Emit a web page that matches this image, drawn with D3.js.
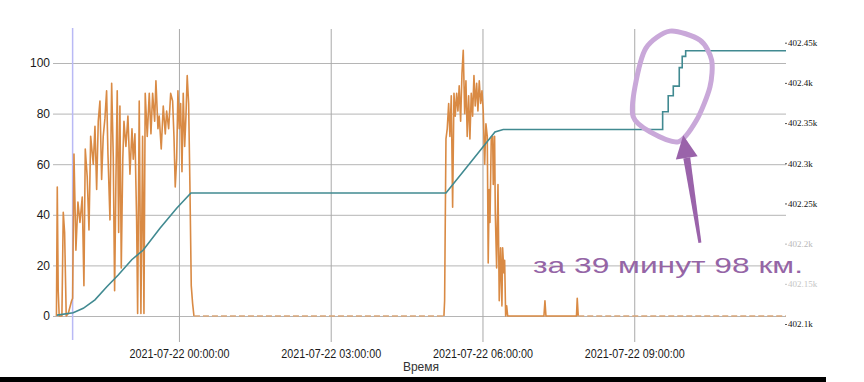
<!DOCTYPE html>
<html><head><meta charset="utf-8">
<script src="https://cdn.jsdelivr.net/npm/d3@7"></script>
<style>body{margin:0;background:#fff;overflow:hidden}</style>
</head><body><svg id="c" width="864" height="382"></svg>
<script>
// ---------- data ----------
const xDomain = ["2021-07-21 21:33:00", "2021-07-22 12:00:00"];
const timeTicks = ["2021-07-22 00:00:00", "2021-07-22 03:00:00", "2021-07-22 06:00:00", "2021-07-22 09:00:00"];
const xTitle = "Время";
const leftTicks = [0, 20, 40, 60, 80, 100];
const rightTicks = [402.1, 402.15, 402.2, 402.25, 402.3, 402.35, 402.4, 402.45];
const rightTickLabels = ["402.1k", "402.15k", "402.2k", "402.25k", "402.3k", "402.35k", "402.4k", "402.45k"];
const cursorMinute = -126.1;           // minutes relative to 2021-07-22 00:00
// speed series (left axis): minutes relative to 2021-07-22 00:00
const speedMinutes = [
  -145.3,-144.3,-143.2,-142.0,-138.8,-137.2,-135.6,-133.7,-131.3,-127.3,
  -126.1,-124.5,-122.2,-119.8,-117.4,-114.7,-112.7,-111.1,-108.8,-106.7,
  -104.7,-101.6,-99.6,-97.6,-95.7,-93.7,-91.7,-89.8,-87.8,-85.8,
  -84.2,-81.8,-79.8,-77.9,-76.3,-74.7,-73.2,-71.5,-70.0,-68.4,
  -66.6,-65.2,-62.9,-60.5,-58.1,-55.7,-54.2,-52.2,-50.2,-49.0,
  -47.1,-45.1,-43.1,-41.5,-40.0,-37.6,-35.2,-33.2,-31.2,-28.8,
  -27.3,-24.9,-23.4,-21.0,-18.6,-16.2,-14.6,-12.2,-9.8,-7.5,
  -5.9,-4.4,-2.7,-1.2,0.4,2.0,3.6,5.1,6.8,8.3,
  9.8,11.5,13.0,14.6,16.2,17.8,
  314.3,315.1,316.7,318.2,319.9,321.4,323.0,324.6,326.2,327.7,
  329.4,330.9,332.4,334.1,335.7,337.2,338.9,340.4,341.9,343.6,
  345.1,346.7,348.3,349.9,351.4,353.1,354.6,356.2,357.8,359.4,
  360.9,362.6,364.1,365.7,366.8,368.0,368.9,370.4,372.1,372.8,
  374.4,375.2,376.8,378.4,379.9,381.5,383.1,383.9,385.5,386.3,
  387.5,388.7,389.9,432.9,434.1,435.3,471.5,472.4,473.6,720
];
const speedValues = [
  0,51,10,0,0,41,33,0,1,6,
  7,64,26,45,37,47,12,66,55,34,
  71,60,75,50,77,85,54,71,78,89,
  64,38,92,63,10,55,89,33,83,19,
  62,77,67,79,56,74,62,72,38,1,
  85,1,71,1,88,71,88,72,88,77,
  93,74,79,66,83,72,81,74,88,85,
  71,51,62,89,74,84,57,88,67,79,
  95,84,52,12,5,0,
  0,6,70,74,84,71,87,43,88,79,
  88,81,91,77,96,105,80,93,71,87,
  70,88,79,95,83,92,81,93,84,89,
  81,60,76,71,21,50,37,70,71,52,
  71,41,19,52,6,27,4,27,17,22,
  0,4,0,0,6,0,0,7,0,0
];
// odometer series (right axis, thousands of km)
const odoMinutes = [-144.7,-125.4,-113.5,-99.6,-85.8,-72.0,-56.0,-42.3,-22.5,-2.7,
  14.2,316.7,345.1,364.1,374.8,384.6,573.7,573.7,580.3,580.3,
  586.3,586.3,593.4,593.4,596.9,596.9,601.0,601.0,720];
const odoValues = [402.111,402.114,402.1195,402.130,402.146,402.161,402.180,402.192,402.219,402.244,
  402.263,402.263,402.300,402.325,402.339,402.342,402.342,402.364,402.364,402.384,
  402.384,402.396,402.396,402.419,402.419,402.433,402.433,402.440,402.440];
const noteText = "за 39 минут 98 км.";

// ---------- setup ----------
const svg = d3.select("#c");
const parse = d3.timeParse("%Y-%m-%d %H:%M:%S");
const base = parse("2021-07-22 00:00:00");
const atMin = m => new Date(base.getTime() + m * 60000);

const x = d3.scaleTime().domain(xDomain.map(parse)).range([55, 786]);
const yL = d3.scaleLinear().domain([0, 100]).range([316, 63]);
const yR = d3.scaleLinear().domain([402.1, 402.45]).range([324, 42.7]);

const ORANGE = "#d98a44", TEAL = "#418a91";

// horizontal grid + left labels
const gL = svg.append("g").attr("transform", "translate(53,0)")
  .call(d3.axisLeft(yL).tickValues(leftTicks).tickSize(-733).tickPadding(3).tickFormat(d3.format("d")));
gL.select(".domain").remove();
gL.selectAll("line").attr("stroke", "#b5b5b5");
gL.selectAll("text").attr("font-family", "Liberation Sans, Arial, sans-serif").attr("font-size", 12).attr("fill", "#1a1a1a");

// vertical grid + time labels
const gB = svg.append("g").attr("transform", "translate(0,342)")
  .call(d3.axisBottom(x).tickValues(timeTicks.map(parse)).tickSize(-313).tickPadding(6.8)
    .tickFormat((d, i) => timeTicks[i]));
gB.select(".domain").remove();
gB.selectAll("line").attr("stroke", "#a9a9a9");
gB.selectAll("text").attr("font-family", "Liberation Sans, Arial, sans-serif").attr("font-size", 12.5)
  .attr("fill", "#1a1a1a").attr("textLength", 100).attr("lengthAdjust", "spacingAndGlyphs");

svg.append("text").attr("x", 421).attr("y", 371).attr("text-anchor", "middle")
  .attr("font-family", "Liberation Sans, Arial, sans-serif").attr("font-size", 12).attr("fill", "#333")
  .text(xTitle);

// right axis labels
const faded = { "402.2k": "#b9b9b9", "402.15k": "#c6c6c6" };
const gR = svg.append("g").attr("transform", "translate(785,0)")
  .call(d3.axisRight(yR).tickValues(rightTicks).tickSize(2).tickPadding(1)
    .tickFormat((d, i) => rightTickLabels[i]));
gR.select(".domain").remove();
gR.selectAll("line").attr("stroke", (d, i) => faded[rightTickLabels[i]] || "#555");
gR.selectAll("text").attr("font-family", "Liberation Serif, Times New Roman, serif").attr("font-size", 9)
  .attr("fill", (d, i) => faded[rightTickLabels[i]] || "#111");

// cursor line
svg.append("line").attr("x1", x(atMin(cursorMinute))).attr("x2", x(atMin(cursorMinute)))
  .attr("y1", 28).attr("y2", 340).attr("stroke", "#b9b9f5").attr("stroke-width", 1.5);

// speed series: split into driving (solid) and long idle (dashed) runs
const speed = speedMinutes.map((m, i) => ({ t: atMin(m), m, v: speedValues[i] }));
const runs = [];
for (let i = 0; i < speed.length - 1; i++) {
  const a = speed[i], b = speed[i + 1];
  const idle = a.v === 0 && b.v === 0 && (b.m - a.m) > 60;
  const last = runs[runs.length - 1];
  if (last && last.idle === idle) last.pts.push(b);
  else runs.push({ idle, pts: [a, b] });
}
const lineL = d3.line().x(d => x(d.t)).y(d => yL(d.v));
runs.forEach(r => {
  svg.append("path").attr("d", lineL(r.pts)).attr("fill", "none")
    .attr("stroke", r.idle ? "#d9a77a" : ORANGE).attr("stroke-width", r.idle ? 1.4 : 1.6)
    .attr("stroke-dasharray", r.idle ? "6,3" : null).attr("stroke-linejoin", "round");
});

// odometer series
const odo = odoMinutes.map((m, i) => ({ t: atMin(m), v: odoValues[i] }));
svg.append("path").attr("d", d3.line().x(d => x(d.t)).y(d => yR(d.v))(odo))
  .attr("fill", "none").attr("stroke", TEAL).attr("stroke-width", 1.6);

// ---------- annotation ----------
const cx = x(atMin(584.7)), cy = yR(402.396);
const loopOffsets = [[-2,-55],[28,-46],[39.7,-26],[38,1],[24.7,34],[6.3,55.7],[-22,45.7],[-38.7,30.7],[-37,1],[-26,-38]];
svg.append("path")
  .attr("d", d3.line().curve(d3.curveCardinalClosed.tension(0.2))(loopOffsets.map(p => [cx + p[0], cy + p[1]])))
  .attr("fill", "none").attr("stroke", "#c9a8d9").attr("stroke-width", 5);

const tip = [x(atMin(598.1)), yR(402.335)];
const tail = [x(atMin(617.9)), yR(402.201)];
const ang = Math.atan2(tip[1] - tail[1], tip[0] - tail[0]);
const headLen = 23, headW = 11;
const hb = [tip[0] - headLen * Math.cos(ang), tip[1] - headLen * Math.sin(ang)];
const nx = -Math.sin(ang), ny = Math.cos(ang);
svg.append("polygon")
  .attr("points", [[tail[0] - 1.5 * nx, tail[1] - 1.5 * ny], [tail[0] + 1.5 * nx, tail[1] + 1.5 * ny],
    [hb[0] + 3.5 * nx, hb[1] + 3.5 * ny], [hb[0] - 3.5 * nx, hb[1] - 3.5 * ny]].map(p => p.join(",")).join(" "))
  .attr("fill", "#9a63aa");
svg.append("polygon")
  .attr("points", [tip, [hb[0] + headW * nx, hb[1] + headW * ny], [hb[0] - headW * nx, hb[1] - headW * ny]]
    .map(p => p.join(",")).join(" "))
  .attr("fill", "#9a63aa");

// annotation text (horizontally stretched as in the reference)
const note = svg.append("text")
  .attr("transform", `translate(${x(atMin(419.9))},${yL(16.9)}) scale(1.45,1)`)
  .attr("font-family", "Liberation Sans, Arial, sans-serif").attr("font-size", 22)
  .attr("fill", "#9565a6").text(noteText);
const w = note.node().getComputedTextLength();
note.attr("transform", `translate(${x(atMin(419.9))},${yL(16.9)}) scale(${270 / w},1)`);

// bottom black bar
svg.append("rect").attr("x", 0).attr("y", 377).attr("width", 826).attr("height", 5).attr("fill", "#000");
</script>
</body></html>
